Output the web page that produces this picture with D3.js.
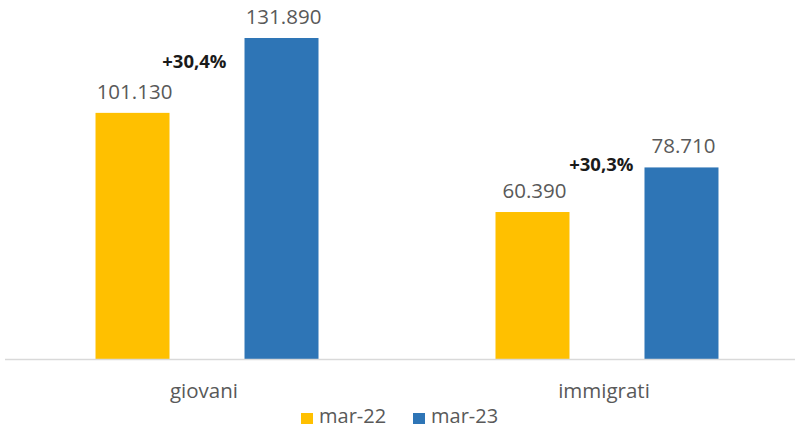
<!DOCTYPE html>
<html>
<head>
<meta charset="utf-8">
<style>
  body { margin: 0; background: #fff; }
  svg { display: block; font-family: "Open Sans", "Noto Sans", sans-serif; }
</style>
</head>
<body>
<svg width="797" height="432"></svg>
<script src="https://d3js.org/d3.v7.min.js"></script>
<script>
// dati
const categories = ["giovani", "immigrati"];
const series = ["mar-22", "mar-23"];
const values22 = [101130, 60390];
const values23 = [131890, 78710];
const changes = ["+30,4%", "+30,3%"];
const colors = ["#FFC000", "#2E75B6"];

const width = 797, height = 432;
const baseY = 359, topY = 38;

const svg = d3.select("svg");
const fmt = d3.formatLocale({decimal: ",", thousands: ".", grouping: [3], currency: ["", "€"]}).format(",.0f");

// scale
const x0 = d3.scaleBand().domain(categories).range([7, 807])
  .paddingInner(0.4425).paddingOuter(0.2213);
const x1 = d3.scaleBand().domain(series).range([0, x0.bandwidth()])
  .paddingInner(0.5034).paddingOuter(0);
const y = d3.scaleLinear().domain([0, d3.max(values23)]).range([baseY, topY]);

const rows = categories.map((c, i) => ({cat: c, vals: [values22[i], values23[i]], change: changes[i]}));

// barre
const g = svg.selectAll(".grp").data(rows).enter().append("g")
  .attr("transform", d => `translate(${x0(d.cat)},0)`);

g.selectAll("rect").data(d => d.vals.map((v, j) => ({s: series[j], v, j}))).enter().append("rect")
  .attr("x", d => x1(d.s))
  .attr("y", d => y(d.v))
  .attr("width", x1.bandwidth())
  .attr("height", d => y(0) - y(d.v))
  .attr("fill", d => colors[d.j]);

// etichette valori
g.selectAll(".val").data(d => d.vals.map((v, j) => ({s: series[j], v}))).enter().append("text")
  .attr("x", d => x1(d.s) + x1.bandwidth() / 2 + 2)
  .attr("y", d => y(d.v) - 14)
  .attr("text-anchor", "middle")
  .attr("font-size", "20.5px")
  .attr("fill", "#595959")
  .text(d => fmt(d.v));

// variazione % (posizione aggiustata a mano come nell'originale)
const dy = [30, 4];
const dx = [18, 11];
g.append("text")
  .attr("x", (d, i) => x1(series[1]) - dx[i])
  .attr("y", (d, i) => y(d.vals[1]) + dy[i])
  .attr("text-anchor", "end")
  .attr("font-size", "18.5px")
  .attr("font-weight", "bold")
  .attr("fill", "#1a1a1a")
  .text(d => d.change);

// asse x
svg.append("line")
  .attr("x1", 5).attr("x2", 795)
  .attr("y1", baseY + 0.5).attr("y2", baseY + 0.5)
  .attr("stroke", "#D9D9D9").attr("stroke-width", 1.5);

svg.selectAll(".cat").data(categories).enter().append("text")
  .attr("x", d => x0(d) + x0.bandwidth() / 2 - 3)
  .attr("y", 398)
  .attr("text-anchor", "middle")
  .attr("font-size", "20.5px")
  .attr("fill", "#595959")
  .text(d => d);

// legenda
const leg = svg.append("g");
const legX = [301, 413];
series.forEach((s, i) => {
  leg.append("rect").attr("x", legX[i]).attr("y", 413).attr("width", 12).attr("height", 11).attr("fill", colors[i]);
  leg.append("text").attr("x", legX[i] + 18).attr("y", 423)
    .attr("font-size", "20px").attr("fill", "#595959").text(s);
});
</script>
</body>
</html>
